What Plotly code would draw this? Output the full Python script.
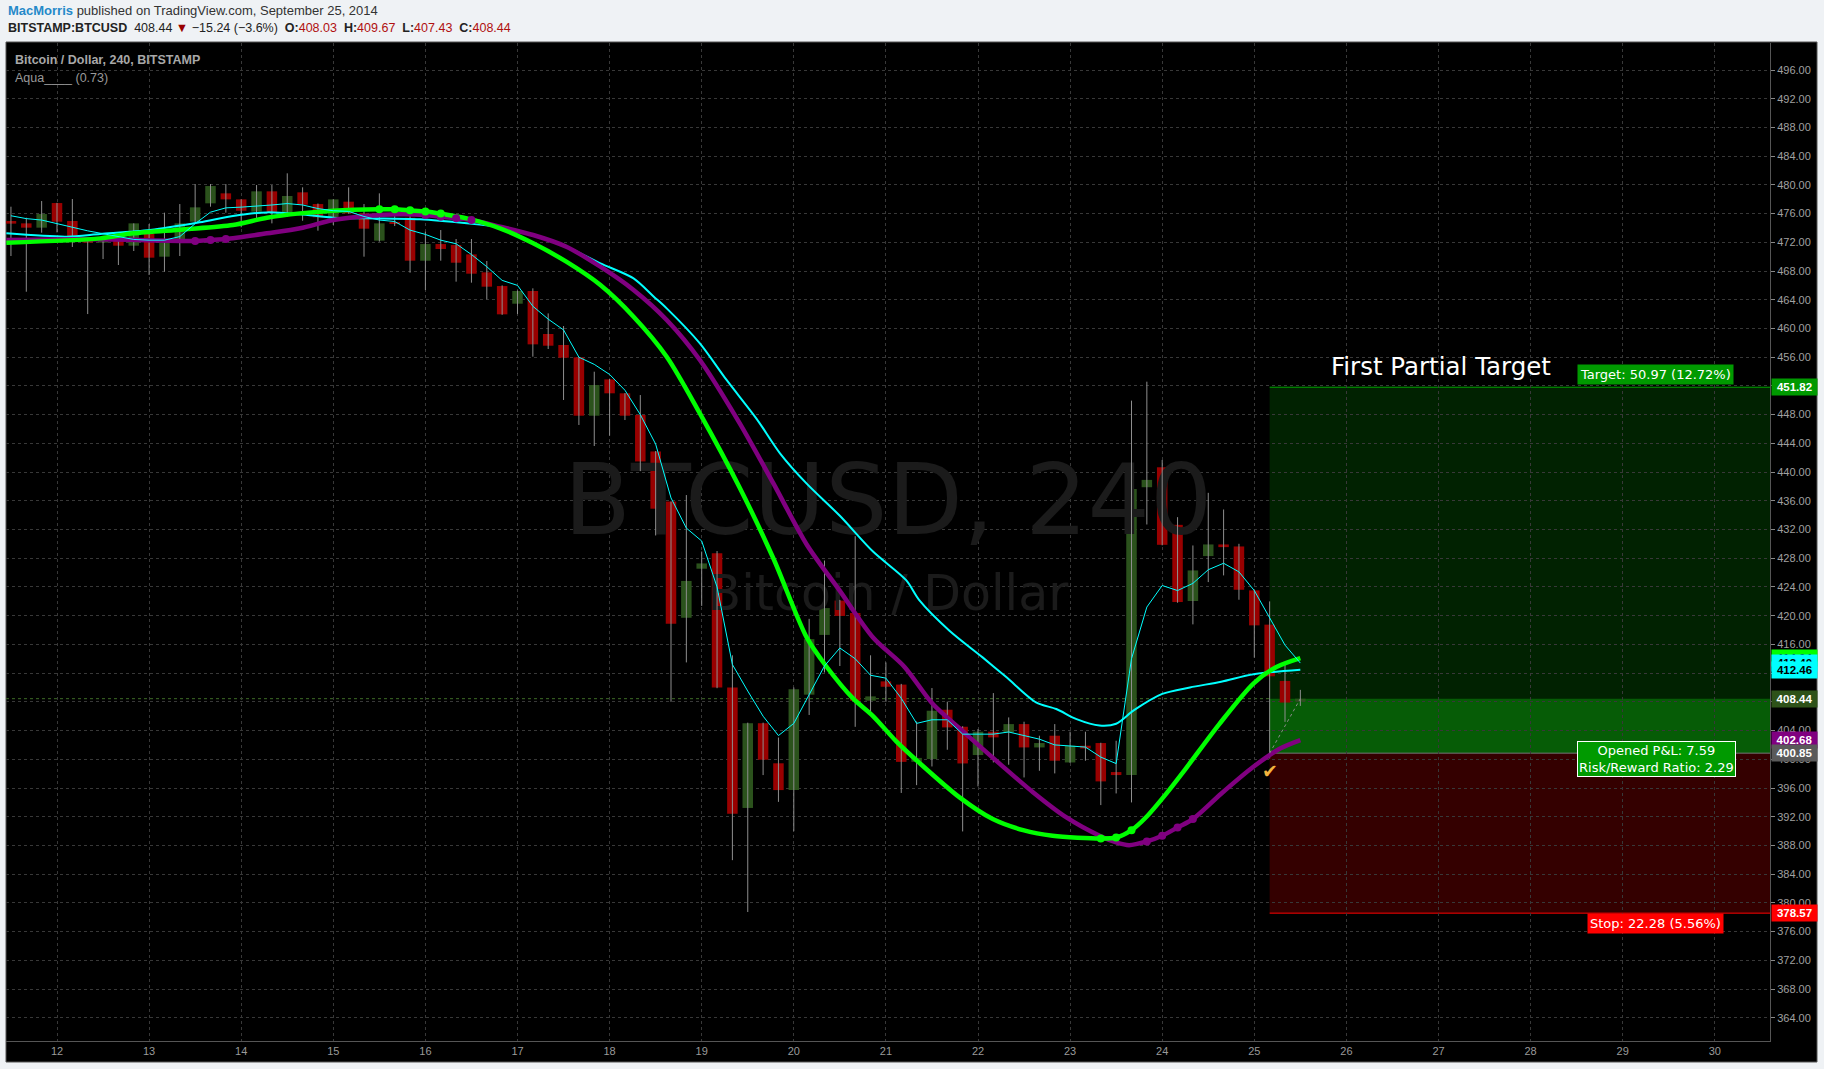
import pandas as pd
import plotly.graph_objects as go

# ---------------- data (BITSTAMP BTCUSD, 4h candles) ----------------
FIRST_CANDLE = "2014-09-11 12:00"

OPEN = [474.97, 474.64, 474.04, 477.47, 474.97, 472.55, 471.95, 472.32, 471.53, 473.16,
        470.00, 472.00, 474.87, 477.43, 478.82, 477.98, 476.27, 479.10, 476.13, 478.96,
        477.33, 475.43, 477.66, 476.03, 472.23, 474.74, 475.43, 469.44, 471.76, 471.62,
        470.32, 467.82, 465.91, 463.45, 465.22, 459.23, 457.70, 455.98, 447.85, 452.91,
        450.97, 447.95, 442.87, 435.90, 419.71, 426.54, 428.68, 410.00, 393.22, 405.02,
        399.44, 395.71, 409.00, 417.32, 422.10, 420.36, 408.16, 410.85, 410.40, 399.64,
        400.03, 406.90, 404.53, 400.59, 403.84, 403.74, 404.90, 401.65, 403.28, 399.56,
        401.89, 402.26, 398.22, 397.80, 437.89, 440.67, 432.65, 422.04, 428.30, 429.92,
        429.64, 423.52, 418.75, 410.91, 408.03]
HIGH = [476.96, 475.43, 477.75, 477.50, 478.03, 472.60, 472.79, 472.79, 474.64, 474.55,
        476.13, 477.33, 480.12, 480.12, 480.12, 478.00, 479.98, 479.98, 481.61, 479.66,
        477.40, 478.00, 479.66, 477.33, 478.82, 476.03, 476.64, 473.48, 473.71, 472.46,
        472.46, 469.40, 466.00, 465.30, 465.59, 462.10, 460.34, 456.00, 453.98, 453.00,
        451.00, 450.73, 442.93, 435.90, 436.80, 428.93, 429.00, 414.48, 405.10, 405.10,
        403.03, 410.00, 419.56, 427.68, 422.20, 431.07, 414.48, 413.49, 410.50, 405.27,
        409.92, 408.02, 404.60, 404.21, 409.22, 405.83, 405.23, 403.28, 404.90, 403.84,
        403.84, 402.30, 402.58, 449.95, 452.59, 441.69, 433.72, 429.78, 437.11, 434.79,
        430.01, 423.60, 421.99, 413.55, 409.67]
LOW = [470.09, 465.12, 473.34, 473.39, 471.35, 462.01, 469.67, 468.84, 470.79, 467.45,
       467.91, 470.09, 474.80, 476.96, 476.13, 474.09, 475.11, 474.64, 475.57, 475.01,
       473.62, 474.41, 476.00, 470.00, 472.10, 474.27, 467.77, 465.36, 469.44, 466.52,
       466.38, 464.06, 461.90, 462.01, 456.07, 457.14, 450.04, 446.56, 443.63, 445.07,
       447.25, 440.13, 431.17, 408.01, 413.49, 421.36, 409.90, 385.95, 378.73, 397.80,
       394.07, 389.98, 406.17, 412.09, 412.99, 404.52, 406.67, 408.01, 395.31, 396.40,
       399.00, 401.33, 389.95, 396.22, 399.56, 399.24, 397.47, 398.40, 398.03, 399.50,
       399.80, 393.62, 395.24, 393.99, 432.70, 429.80, 421.80, 418.79, 424.68, 425.61,
       422.22, 414.16, 400.11, 405.21, 407.43]
CLOSE = [474.60, 474.04, 475.94, 474.87, 472.55, 471.95, 472.32, 471.53, 474.64, 469.86,
         472.00, 474.64, 476.87, 479.84, 477.98, 476.40, 479.10, 476.17, 478.45, 477.24,
         475.48, 477.98, 476.03, 473.90, 474.64, 474.60, 469.44, 471.76, 471.07, 469.16,
         467.63, 465.82, 461.97, 465.22, 457.79, 457.60, 455.93, 447.85, 452.13, 450.97,
         447.85, 441.48, 434.90, 418.87, 424.84, 427.28, 410.00, 392.42, 405.02, 399.94,
         395.71, 409.75, 416.73, 421.06, 419.96, 408.16, 408.76, 410.10, 399.64, 400.19,
         406.76, 404.44, 399.42, 403.84, 403.05, 404.90, 401.65, 402.26, 399.80, 401.89,
         401.51, 396.92, 397.80, 437.66, 438.91, 429.87, 421.90, 426.30, 429.92, 429.55,
         423.61, 418.65, 411.56, 407.90, 408.44]

# fast aqua line (one value per candle)
AQUA_FAST = [475.7, 475.3, 475.1, 474.6, 474.0, 473.6, 473.2, 472.8, 472.4, 472.3,
             472.3, 472.8, 474.6, 476.2, 476.8, 476.9, 477.0, 477.2, 477.4, 477.2,
             476.7, 476.4, 476.3, 475.6, 475.1, 474.9, 473.7, 473.1, 472.3, 471.8,
             470.3, 468.6, 466.7, 466.0, 463.1, 461.3, 459.8, 456.0, 455.0, 453.6,
             451.4, 448.0, 443.9, 436.4, 432.2, 430.4, 424.0, 413.2, 409.5, 406.0,
             403.3, 405.0, 409.0, 413.0, 415.5, 414.0, 411.7, 411.3, 408.5, 405.0,
             405.5, 405.5, 403.5, 403.5, 403.5, 403.8, 403.3, 402.8, 402.0, 401.9,
             401.7, 400.3, 399.4, 414.0, 421.2, 424.2, 423.5, 424.5, 426.4, 427.3,
             426.1, 423.5, 419.8, 415.9, 413.4]

# smooth averages: (day of September, price) points
GREEN_DAYS = [11.45, 12.47, 12.83, 13.37, 13.91, 14.28, 14.64, 15.0, 15.5, 15.667, 15.833,
              16.0, 16.167, 16.45, 16.81, 17.17, 17.53, 17.9, 18.26, 18.62, 18.98, 19.41,
              19.78, 20.14, 20.35, 20.64, 20.86, 21.11, 21.36, 21.8, 22.16, 22.49, 22.81,
              23.333, 23.5, 23.667, 23.83, 24.04, 24.25, 24.62, 24.99, 25.24, 25.5]
GREEN_VALS = [471.95, 472.55, 473.25, 473.8, 474.41, 475.43, 476.03, 476.4, 476.6, 476.6, 476.45,
              476.3, 476.0, 475.34, 473.95, 471.86, 469.3, 466.05, 461.64, 456.07, 448.18, 437.89,
              427.93, 416.97, 412.99, 408.51, 406.02, 402.53, 399.54, 394.69, 391.67, 390.13, 389.35,
              388.97, 389.11, 390.13, 392.0, 395.15, 398.6, 404.9, 410.54, 412.86, 414.1]

PURPLE_DAYS = [11.45, 12.47, 13.5, 13.667, 13.833, 14.28, 14.64, 15.0, 15.36, 15.72, 16.0,
               16.167, 16.333, 16.5, 16.81, 17.17, 17.53, 17.9, 18.26, 18.62, 18.98, 19.41,
               19.78, 20.14, 20.5, 20.86, 21.2, 21.51, 21.87, 22.24, 22.6, 22.96, 23.32, 23.5,
               23.64, 23.833, 24.0, 24.167, 24.333, 24.64, 24.99, 25.28, 25.5]
PURPLE_VALS = [472.32, 472.41, 472.18, 472.32, 472.46, 473.25, 473.95, 475.1, 475.66, 475.9, 475.8,
               475.57, 475.34, 475.11, 474.18, 473.02, 471.39, 468.6, 465.36, 461.18, 455.61, 446.85,
               438.39, 429.92, 423.45, 416.97, 412.9, 407.69, 403.51, 399.33, 395.38, 391.9, 389.35, 388.42,
               388.04, 388.56, 389.35, 390.51, 391.67, 395.2, 398.95, 401.5, 402.68]

AQUA_SLOW_DAYS = [11.45, 12.1, 12.47, 13.01, 13.55, 13.91, 14.28, 14.64, 15.0, 15.36, 15.94,
                  16.45, 16.81, 17.17, 17.53, 17.9, 18.26, 18.48, 18.62, 18.98, 19.27, 19.6,
                  19.85, 20.14, 20.5, 20.86, 21.22, 21.36, 21.69, 22.05, 22.31, 22.63, 22.85,
                  23.07, 23.32, 23.5, 23.69, 24.0, 24.3, 24.64, 24.99, 25.5]
AQUA_SLOW_VALS = [473.25, 472.79, 473.16, 473.71, 474.78, 475.66, 476.17, 475.9, 475.43, 475.34, 475.2,
                  474.64, 474.09, 473.02, 471.39, 469.07, 466.98, 464.43, 462.8, 457.93, 452.83, 447.35,
                  442.62, 438.39, 433.91, 428.93, 424.94, 422.2, 417.91, 414.19, 411.41, 407.92, 407.0,
                  405.6, 404.7, 404.95, 406.8, 409.1, 410.0, 410.8, 411.84, 412.46]

# circle markers drawn on the thick averages (candle number, price)
GREEN_DOT_CANDLES = [25, 26, 27, 28, 29, 72, 73, 74]
GREEN_DOT_VALS = [476.6, 476.6, 476.45, 476.3, 476.0, 388.97, 389.11, 390.13]
PURPLE_DOT_CANDLES = [13, 14, 15, 28, 29, 30, 31, 75, 76, 77, 78]
PURPLE_DOT_VALS = [472.18, 472.32, 472.46, 475.8, 475.57, 475.34, 475.11, 388.56, 389.35, 390.51, 391.67]

# long position tool
ENTRY_CANDLE = 83
ENTRY = 400.85
TARGET = 451.82
STOP = 378.57
LAST = 408.44
GREEN_LAST = 414.04
AQUA_FAST_LAST = 413.40
AQUA_LAST = 412.46
PURPLE_LAST = 402.68

Y_TICKS = list(range(364, 497, 4))
X_TICK_DAYS = list(range(12, 31))

# ---------------- layout geometry ----------------
W, H = 1824, 1069
PL, PR, PT, PB = 6, 1770, 43, 1041
Y_RANGE = [360.763, 499.760]
X_RANGE_DAYS = [11.4463, 30.5993]
PX_PER_DAY = (PR - PL) / (X_RANGE_DAYS[1] - X_RANGE_DAYS[0])


def day_ts(d):
    return (pd.Timestamp("2014-09-01") + pd.Timedelta(days=d - 1)).strftime("%Y-%m-%d %H:%M:%S")


def px_x(px):
    return (px - PL) / (PR - PL)


def px_y(py):
    return (PB - py) / (PB - PT)


def px_to_day(px):
    return X_RANGE_DAYS[0] + (px - PL) / PX_PER_DAY


def py_to_price(py):
    return Y_RANGE[1] - (py - PT) / (PB - PT) * (Y_RANGE[1] - Y_RANGE[0])


times = pd.date_range(FIRST_CANDLE, periods=len(OPEN), freq="4h")
tstr = [t.strftime("%Y-%m-%d %H:%M:%S") for t in times]
n = len(OPEN)

BODY_MS = 10.5 / PX_PER_DAY * 86400000

fig = go.Figure()

# watermark (as a text trace so that it sits beneath the candles)
fig.add_trace(go.Scatter(
    x=[day_ts(px_to_day(888)), day_ts(px_to_day(888))],
    y=[py_to_price(509), py_to_price(598)],
    mode="text", text=["BTCUSD, 240", "Bitcoin / Dollar"],
    textfont=dict(family="DejaVu Sans", size=[98, 49], color="#1b1b1b"),
    hoverinfo="skip", cliponaxis=False))

# wicks
wx, wy = [], []
for t, lo, hi in zip(tstr, LOW, HIGH):
    wx += [t, t, None]
    wy += [lo, hi, None]
fig.add_trace(go.Scatter(x=wx, y=wy, mode="lines", line=dict(color="#8e8e8e", width=1),
                         hoverinfo="skip"))

# bodies
for up, color in [(True, "#2b521c"), (False, "#990000")]:
    idx = [i for i in range(n) if (CLOSE[i] >= OPEN[i]) == up]
    fig.add_trace(go.Bar(
        x=[tstr[i] for i in idx],
        base=[min(OPEN[i], CLOSE[i]) for i in idx],
        y=[max(abs(CLOSE[i] - OPEN[i]), 0.15) for i in idx],
        width=BODY_MS, marker=dict(color=color, line=dict(width=0)),
        hoverinfo="skip"))

# averages
fig.add_trace(go.Scatter(x=[day_ts(d) for d in AQUA_SLOW_DAYS], y=AQUA_SLOW_VALS, mode="lines",
                         line=dict(color="#00ffff", width=2, shape="spline", smoothing=0.8),
                         hoverinfo="skip"))
fig.add_trace(go.Scatter(x=[day_ts(d) for d in PURPLE_DAYS], y=PURPLE_VALS, mode="lines",
                         line=dict(color="#800080", width=4.5, shape="spline", smoothing=0.8),
                         hoverinfo="skip"))
fig.add_trace(go.Scatter(x=[day_ts(d) for d in GREEN_DAYS], y=GREEN_VALS, mode="lines",
                         line=dict(color="#00ff00", width=4.5, shape="spline", smoothing=0.8),
                         hoverinfo="skip"))
fig.add_trace(go.Scatter(x=[tstr[k - 1] for k in PURPLE_DOT_CANDLES], y=PURPLE_DOT_VALS,
                         mode="markers", marker=dict(color="#800080", size=8), hoverinfo="skip"))
fig.add_trace(go.Scatter(x=[tstr[k - 1] for k in GREEN_DOT_CANDLES], y=GREEN_DOT_VALS,
                         mode="markers", marker=dict(color="#00ff00", size=8), hoverinfo="skip"))
fig.add_trace(go.Scatter(x=tstr, y=AQUA_FAST, mode="lines",
                         line=dict(color="#00ffff", width=1), hoverinfo="skip"))

# ---------------- shapes ----------------
x_entry = tstr[ENTRY_CANDLE - 1]
x_end = day_ts(31.5)
shapes = [
    dict(type="rect", xref="paper", yref="paper", x0=px_x(6), x1=px_x(1817), y0=px_y(1062), y1=px_y(42),
         fillcolor="#000000", line=dict(color="#555555", width=1), layer="below"),
    dict(type="rect", xref="x", yref="y", x0=x_entry, x1=x_end, y0=ENTRY, y1=TARGET,
         fillcolor="#012201", line=dict(width=0), layer="below"),
    dict(type="rect", xref="x", yref="y", x0=x_entry, x1=x_end, y0=ENTRY, y1=LAST,
         fillcolor="#065c06", line=dict(width=0), layer="below"),
    dict(type="rect", xref="x", yref="y", x0=x_entry, x1=x_end, y0=STOP, y1=ENTRY,
         fillcolor="#340000", line=dict(width=0), layer="below"),
    dict(type="line", xref="x", yref="y", x0=x_entry, x1=x_end, y0=TARGET, y1=TARGET,
         line=dict(color="#00a800", width=1), layer="below"),
    dict(type="line", xref="x", yref="y", x0=x_entry, x1=x_end, y0=STOP, y1=STOP,
         line=dict(color="#ff0000", width=1), layer="below"),
    dict(type="line", xref="x", yref="y", x0=x_entry, x1=x_end, y0=ENTRY, y1=ENTRY,
         line=dict(color="#777777", width=1), layer="below"),
    dict(type="line", xref="paper", yref="y", x0=0, x1=1, y0=LAST, y1=LAST,
         line=dict(color="#3d6b26", width=1, dash="dot"), layer="below"),
    dict(type="line", xref="x", yref="y", x0=x_entry, x1=tstr[-1], y0=ENTRY, y1=LAST,
         line=dict(color="#8a8a8a", width=1, dash="dot"), layer="above"),
]

# ---------------- annotations ----------------
HDR_FONT = "Arial, Liberation Sans, sans-serif"
red = "#b01010"
ann = [
    dict(xref="paper", yref="paper", x=px_x(6), y=px_y(10.5), xanchor="left", yanchor="middle",
         showarrow=False, font=dict(family=HDR_FONT, size=13, color="#333333"),
         text="<span style='color:#2589c9'><b>MacMorris</b></span> published on TradingView.com, September 25, 2014"),
    dict(xref="paper", yref="paper", x=px_x(6), y=px_y(28), xanchor="left", yanchor="middle",
         showarrow=False, font=dict(family=HDR_FONT, size=12.5, color="#222222"),
         text=("<b>BITSTAMP:BTCUSD</b>  408.44 <span style='color:#990000'>▼</span> −15.24 (−3.6%)  "
               f"<b>O:</b><span style='color:{red}'>408.03</span>  <b>H:</b><span style='color:{red}'>409.67</span>  "
               f"<b>L:</b><span style='color:{red}'>407.43</span>  <b>C:</b><span style='color:{red}'>408.44</span>")),
    dict(xref="paper", yref="paper", x=px_x(13), y=px_y(60), xanchor="left", yanchor="middle",
         showarrow=False, font=dict(family=HDR_FONT, size=12.5, color="#a8a8a8"),
         text="<b>Bitcoin / Dollar, 240, BITSTAMP</b>"),
    dict(xref="paper", yref="paper", x=px_x(13), y=px_y(78), xanchor="left", yanchor="middle",
         showarrow=False, font=dict(family=HDR_FONT, size=12.5, color="#9a9a9a"),
         text="Aqua____ (0.73)"),
    dict(xref="paper", yref="y", x=px_x(1441), y=TARGET, yshift=21, showarrow=False,
         xanchor="center", yanchor="middle",
         font=dict(family="DejaVu Sans", size=24.5, color="#ffffff"), text="First Partial Target"),
    dict(xref="paper", yref="y", x=px_x(1655), y=TARGET, yshift=13, showarrow=False,
         xanchor="center", yanchor="middle", bgcolor="#009a00", borderpad=2,
         font=dict(family="DejaVu Sans", size=13, color="#ffffff"), text="Target: 50.97 (12.72%)"),
    dict(xref="paper", yref="y", x=px_x(1656), y=ENTRY, yshift=-6, showarrow=False,
         xanchor="center", yanchor="middle", bgcolor="#009a00", bordercolor="#ffffff", borderwidth=1,
         borderpad=1, align="center",
         font=dict(family="DejaVu Sans", size=13, color="#ffffff"),
         text="Opened P&amp;L: 7.59<br>Risk/Reward Ratio: 2.29"),
    dict(xref="paper", yref="y", x=px_x(1655), y=STOP, yshift=-10.5, showarrow=False,
         xanchor="center", yanchor="middle", bgcolor="#ff0000", borderpad=2,
         font=dict(family="DejaVu Sans", size=13, color="#ffffff"), text="Stop: 22.28 (5.56%)"),
    dict(xref="x", yref="y", x=x_entry, y=ENTRY, yshift=-18, showarrow=False,
         xanchor="center", yanchor="middle",
         font=dict(family="DejaVu Sans", size=19, color="#f2b33d"), text="✔"),
]

for val, bg, fg in [(TARGET, "#009900", "#ffffff"), (GREEN_LAST, "#00ff00", "#000000"),
                    (AQUA_FAST_LAST, "#00ffff", "#000000"),
                    (AQUA_LAST, "#00ffff", "#000000"), (LAST, "#2e5219", "#ffffff"),
                    (PURPLE_LAST, "#800080", "#ffffff"), (ENTRY, "#5a5a5a", "#ffffff"),
                    (STOP, "#ff0000", "#ffffff")]:
    ann.append(dict(xref="paper", yref="y", x=1.0, xshift=1, y=val, xanchor="left", yanchor="middle",
                    showarrow=False, bgcolor=bg, borderpad=1, width=43, height=14, align="center",
                    font=dict(family=HDR_FONT, size=11.5, color=fg), text=f"<b>{val:.2f}</b>"))

fig.update_layout(
    width=W, height=H, autosize=False,
    margin=dict(l=PL, r=W - PR, t=PT, b=H - PB, pad=0),
    paper_bgcolor="#eff2f5", plot_bgcolor="#000000",
    showlegend=False, barmode="overlay", hovermode=False,
    shapes=shapes, annotations=ann,
    font=dict(family=HDR_FONT),
    xaxis=dict(type="date", range=[day_ts(X_RANGE_DAYS[0]), day_ts(X_RANGE_DAYS[1])],
               tickmode="array", tickvals=[day_ts(d) for d in X_TICK_DAYS],
               ticktext=[str(d) for d in X_TICK_DAYS],
               tickfont=dict(size=11, color="#9a9a9a"), ticks="",
               showgrid=True, gridcolor="#383838", griddash="3px,3px", gridwidth=1,
               showline=True, linecolor="#555555", linewidth=1, zeroline=False, fixedrange=True),
    yaxis=dict(side="right", range=Y_RANGE, tickmode="array", tickvals=Y_TICKS,
               ticktext=[f"{v:.2f}" for v in Y_TICKS],
               tickfont=dict(size=11, color="#a0a0a0"), ticks="outside", ticklen=4, tickcolor="#888888",
               showgrid=True, gridcolor="#383838", griddash="3px,3px", gridwidth=1,
               showline=True, linecolor="#555555", linewidth=1, zeroline=False, fixedrange=True),
)

fig.write_html("out.html", config={"displayModeBar": False},
               post_script="document.body.style.margin='0';document.body.style.overflow='hidden';"
                           "document.documentElement.style.overflow='hidden';")
